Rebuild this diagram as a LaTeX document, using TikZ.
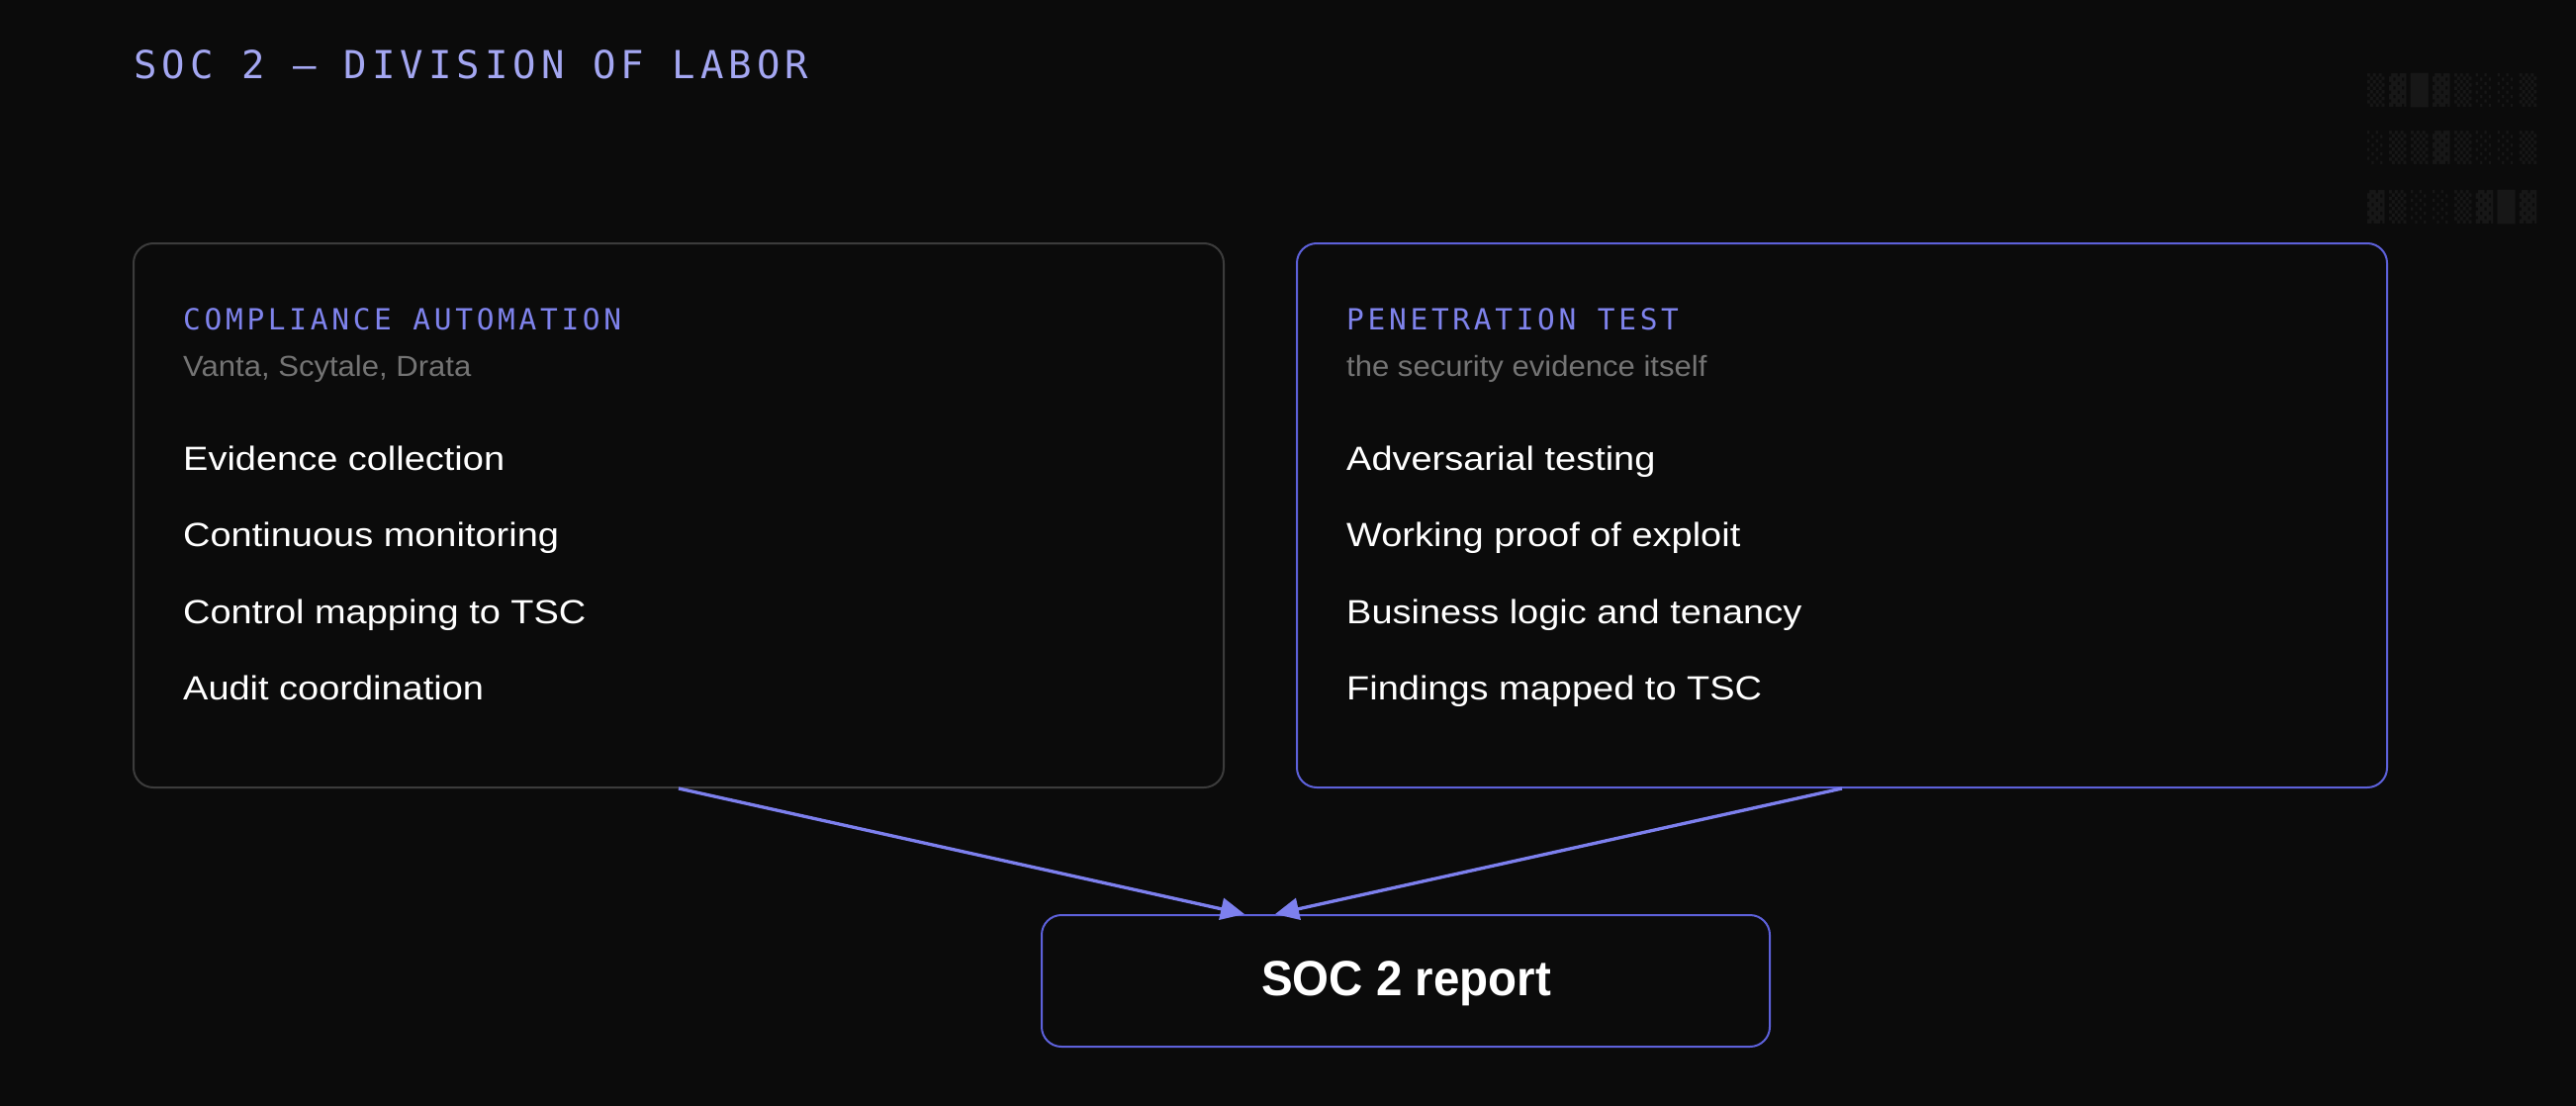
\documentclass[tikz,border=0pt]{standalone}
\usepackage{fontspec}
\usetikzlibrary{arrows.meta}
\newfontfamily\titlefont{DejaVu Sans Mono}[LetterSpace=12.8]
\newfontfamily\headfont{DejaVu Sans Mono}[LetterSpace=12.5]
\newfontfamily\glitchfont{DejaVu Sans Mono}[LetterSpace=15.5]
\newfontfamily\itemfont{Liberation Sans}[FakeStretch=1.12]
\newfontfamily\subfont{Liberation Sans}[FakeStretch=1.06]
\newfontfamily\repfont{Liberation Sans}[FakeStretch=0.95]
\definecolor{bg}{HTML}{0B0B0B}
\definecolor{titlecol}{HTML}{A4A7F2}
\definecolor{headcol}{HTML}{7F83EC}
\definecolor{accent}{HTML}{5D61DA}
\definecolor{arrowcol}{HTML}{7D80EE}
\definecolor{grayborder}{HTML}{3C3C3C}
\definecolor{subcol}{HTML}{747474}
\definecolor{glitch}{HTML}{171717}
\tikzset{
  card/.style={rounded corners=20pt, line width=2pt, fill=bg, minimum width=1102pt, minimum height=550pt, anchor=north west, inner sep=0pt},
  titletext/.style={anchor=base west, inner sep=0pt, text=titlecol, font=\titlefont\fontsize{39pt}{44pt}\selectfont},
  headtext/.style={anchor=base west, inner sep=0pt, text=headcol, font=\headfont\fontsize{29.5pt}{34pt}\selectfont},
  subtext/.style={anchor=base west, inner sep=0pt, text=subcol, font=\subfont\fontsize{29.3pt}{34pt}\selectfont},
  itemtext/.style={anchor=base west, inner sep=0pt, text=white, font=\itemfont\fontsize{33.9pt}{40pt}\selectfont},
  glitchtext/.style={anchor=base west, inner sep=0pt, text=glitch, font=\glitchfont\fontsize{29pt}{34pt}\selectfont},
  flow/.style={draw=arrowcol, line width=3.3pt, -{Triangle[length=24pt,width=22pt]}},
}
\begin{document}
\begin{tikzpicture}[x=1pt,y=-1pt]
\fill[bg] (0,0) rectangle (2604,1118);
\useasboundingbox (0,0) rectangle (2604,1118);

% title
\node[titletext] (title) at (135,79.3) {SOC 2 — DIVISION OF LABOR};

% decorative glyph rows
\node[glitchtext] (g1) at (2393,102) {▒▓█▓▒░░▒};
\node[glitchtext] (g2) at (2393,160) {░▒▒▓▒░░▒};
\node[glitchtext] (g3) at (2393,219) {▓▒░░▒▓█▓};

% cards
\node[card, draw=grayborder] (left) at (134,245) {};
\node[card, draw=accent] (right) at (1310,245) {};

% left card text
\node[headtext] (lhead) at (185,333) {COMPLIANCE AUTOMATION};
\node[subtext] (lsub) at (185,380.7) {Vanta, Scytale, Drata};
\node[itemtext] (l1) at (185,475) {Evidence collection};
\node[itemtext] (l2) at (185,552.5) {Continuous monitoring};
\node[itemtext] (l3) at (185,630) {Control mapping to TSC};
\node[itemtext] (l4) at (185,707.5) {Audit coordination};

% right card text
\node[headtext] (rhead) at (1361,333) {PENETRATION TEST};
\node[subtext] (rsub) at (1361,380.7) {the security evidence itself};
\node[itemtext] (r1) at (1361,475) {Adversarial testing};
\node[itemtext] (r2) at (1361,552.5) {Working proof of exploit};
\node[itemtext] (r3) at (1361,630) {Business logic and tenancy};
\node[itemtext] (r4) at (1361,707.5) {Findings mapped to TSC};

% report box
\node[rounded corners=20pt, line width=2pt, draw=accent, fill=bg, minimum width=736pt, minimum height=133pt, anchor=north west, inner sep=0pt] (rep) at (1052,924) {};
\node[anchor=base, inner sep=0pt, text=white, font=\repfont\bfseries\fontsize{50pt}{56pt}\selectfont] (reptext) at (1421.5,1006.7) {SOC 2 report};

% connectors
\draw[flow] (left.south) -- ([xshift=-163pt]rep.north);
\draw[flow] (right.south) -- ([xshift=-132pt]rep.north);
\end{tikzpicture}
\end{document}
